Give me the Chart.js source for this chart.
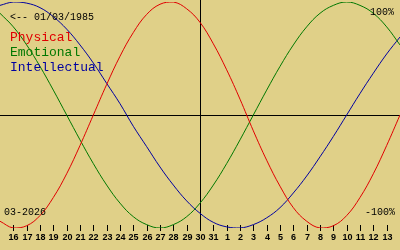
<!DOCTYPE html>
<html>
<head>
<meta charset="utf-8">
<script src="https://cdn.jsdelivr.net/npm/chart.js@4/dist/chart.umd.min.js"></script>
<style>
  html, body { margin: 0; padding: 0; background: #e0d088; }
  #wrap { width: 400px; height: 250px; }
</style>
</head>
<body>
<div id="wrap"><canvas id="bio" width="400" height="250"></canvas></div>
<script>
    // days shown, 15 March .. 14 April (today = 30)
    var dayLabels = ['15','16','17','18','19','20','21','22','23','24','25','26','27','28','29','30','31',
                     '1','2','3','4','5','6','7','8','9','10','11','12','13','14'];
    var physical = [-94,-100,-98,-89,-73,-52,-27,0,27,52,73,89,98,100,94,82,63,40,14,-14,-40,-63,-82,-94,-100,-98,-89,-73,-52,-27,0];
    var emotional = [90,78,62,43,22,0,-22,-43,-62,-78,-90,-97,-100,-97,-90,-78,-62,-43,-22,0,22,43,62,78,90,97,100,97,90,78,62];
    var intellectual = [97,100,99,95,87,76,62,46,28,10,-10,-28,-46,-62,-76,-87,-95,-99,-100,-97,-91,-82,-69,-54,-37,-19,0,19,37,54,69];
    var todayLabel = '30';
    var birthText = '<-- 01/03/1985';
    var monthText = '03-2026';

    var bg = '#e0d088';
    var mono = '"Liberation Mono", "DejaVu Sans Mono", monospace';

    var bioPlugin = {
        id: 'bio',
        beforeDraw: function(chart){
            var ctx = chart.ctx;
            ctx.save();
            ctx.fillStyle = bg;
            ctx.fillRect(0, 0, chart.width, chart.height);
            ctx.restore();
        },
        beforeDatasetsDraw: function(chart){
            var ctx = chart.ctx;
            var xs = chart.scales.x, ys = chart.scales.y;
            var y0 = Math.round(ys.getPixelForValue(0)) + 0.5;
            var xToday = Math.round(xs.getPixelForValue(dayLabels.indexOf(todayLabel))) + 0.5;
            ctx.save();
            ctx.strokeStyle = '#000';
            ctx.lineWidth = 1;
            ctx.beginPath();
            ctx.moveTo(0, y0); ctx.lineTo(chart.width, y0);
            ctx.moveTo(xToday, 0); ctx.lineTo(xToday, 231);
            ctx.stroke();
            // day ticks
            ctx.font = 'bold 9px "Liberation Sans", sans-serif';
            ctx.textAlign = 'center';
            ctx.textBaseline = 'middle';
            ctx.fillStyle = '#000';
            for(var i = 1; i < dayLabels.length - 1; i++){
                var x = Math.round(xs.getPixelForValue(i)) + 0.5;
                ctx.beginPath();
                ctx.moveTo(x, 225); ctx.lineTo(x, 231);
                ctx.stroke();
                ctx.fillText(dayLabels[i], x, 238);
            }
            ctx.restore();
        },
        afterDatasetsDraw: function(chart){
            var ctx = chart.ctx;
            ctx.save();
            ctx.textBaseline = 'middle';
            ctx.fillStyle = '#000';
            ctx.font = '10px ' + mono;
            ctx.textAlign = 'left';
            ctx.fillText(birthText, 10, 17);
            ctx.fillText(monthText, 4, 212);
            ctx.textAlign = 'right';
            ctx.fillText('100%', 394, 12);
            ctx.fillText('-100%', 395, 212);
            ctx.font = '13px ' + mono;
            ctx.textAlign = 'left';
            var ds = chart.data.datasets;
            for(var i = 0; i < ds.length; i++){
                ctx.fillStyle = ds[i].borderColor;
                ctx.fillText(ds[i].label, 10, 38 + i * 15);
            }
            ctx.restore();
        }
    };

    function lineSet(label, values, color){
        return {
            label: label,
            data: values,
            borderColor: color,
            borderWidth: 1,
            pointRadius: 0,
            tension: 0.4,
            fill: false
        };
    }

    new Chart(document.getElementById('bio'), {
        type: 'line',
        data: {
            labels: dayLabels,
            datasets: [
                lineSet('Physical', physical, '#e00000'),
                lineSet('Emotional', emotional, '#007800'),
                lineSet('Intellectual', intellectual, '#0000a0')
            ]
        },
        options: {
            responsive: false,
            animation: false,
            layout: { padding: { top: 2, bottom: 22, left: 0, right: 0 } },
            plugins: { legend: { display: false }, tooltip: { enabled: false } },
            scales: {
                x: { type: 'category', offset: false, display: false },
                y: { min: -100, max: 100, display: false }
            }
        },
        plugins: [bioPlugin]
    });
</script>
</body>
</html>
